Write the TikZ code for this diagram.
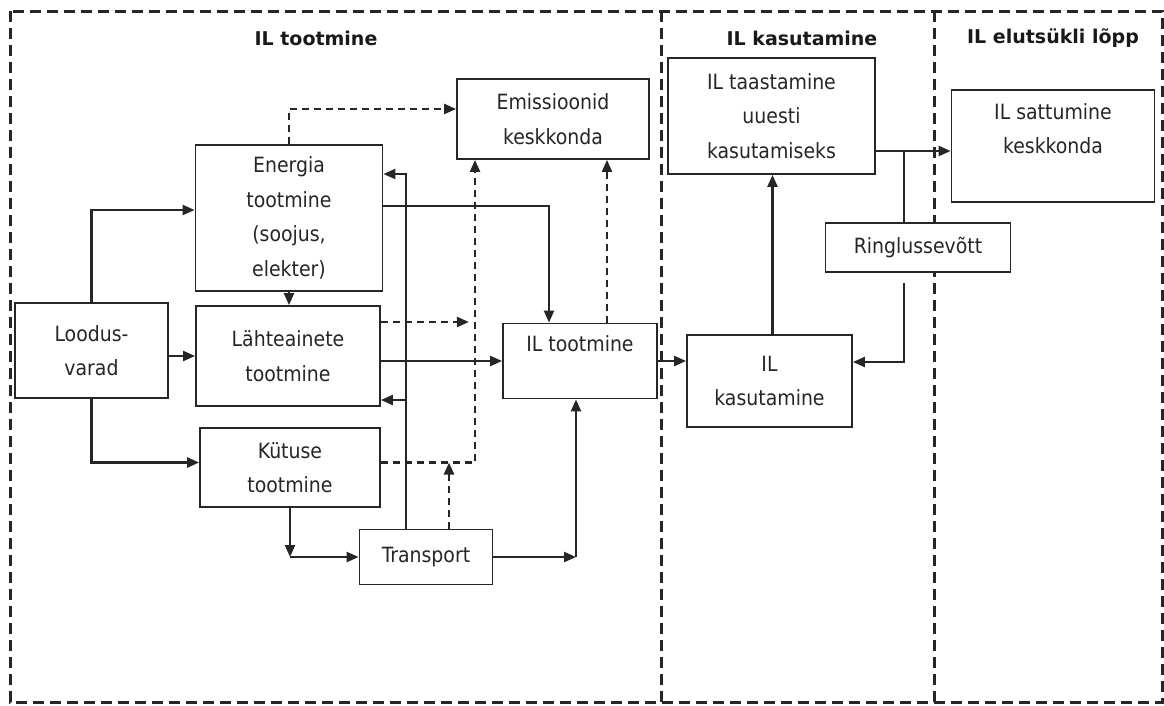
\documentclass[tikz,border=0pt]{standalone}
\usepackage{fontspec}
\setmainfont{DejaVu Sans Condensed}
\newfontfamily\titlefont{DejaVu Sans}
\usetikzlibrary{arrows.meta}

\tikzset{
  blok/.style={draw=black!85, fill=white, line width=1.8pt, inner sep=0pt, align=center, text=black!85,
    font=\fontsize{21}{34.5}\selectfont},
  pealk/.style={font=\titlefont\bfseries\fontsize{19}{23}\selectfont, text=black!90},
  joon/.style={line width=2.3pt, draw=black!85},
  nool/.style={joon, -{Triangle[length=12pt,width=10pt]}},
  katk/.style={nool, dash pattern=on 7pt off 5pt},
  raam/.style={line width=3pt, draw=black!85, dash pattern=on 11pt off 6pt}
}

\begin{document}
\begin{tikzpicture}[x=1pt, y=-1pt]
  \useasboundingbox (0,0) rectangle (1164,705);

  % frame and the three areas
  \draw[raam] (10,11) rectangle (1162,702);
  \draw[raam] (661,11) -- (661,702);
  \draw[raam] (934,11) -- (934,702);

  \node[pealk] (pt1) at (316,38) {IL tootmine};
  \node[pealk] (pt2) at (802,38) {IL kasutamine};
  \node[pealk] (pt3) at (1053,38) {IL elutsükli lõpp};

  % boxes
  \node[blok, minimum width=153, minimum height=95] (loodus) at (91.5,350.5) {Loodus-\\varad};
  \node[blok, minimum width=187, minimum height=146] (energia) at (289,218) {Energia\\tootmine\\(soojus,\\elekter)};
  \node[blok, minimum width=184, minimum height=100] (lahte) at (288,356) {Lähteainete\\tootmine};
  \node[blok, minimum width=180, minimum height=79] (kytus) at (290,467.5) {Kütuse\\tootmine};
  \node[blok, minimum width=133, minimum height=55] (transp) at (426,557) {Transport};
  \node[blok, minimum width=192, minimum height=80] (emis) at (553,119) {Emissioonid\\keskkonda};
  \node[blok, minimum width=154, minimum height=75] (iltoot) at (580,361) {IL tootmine\\ \mbox{}};
  \node[blok, minimum width=165, minimum height=92] (ilkas) at (769.5,381) {IL\\kasutamine};
  \node[blok, minimum width=207, minimum height=116] (taast) at (771.5,116) {IL taastamine\\uuesti\\kasutamiseks};
  \node[blok, minimum width=203, minimum height=112] (sattum) at (1053,146) {IL sattumine\\keskkonda\\ \mbox{}};
  \node[blok, minimum width=185, minimum height=49] (ring) at (918,247.5) {Ringlussevõtt};

  % from Loodusvarad
  \draw[nool] (loodus.north) |- ([yshift=8pt]energia.west);
  \draw[nool] (loodus.east |- lahte.west) -- (lahte.west);
  \draw[nool] (loodus.south) |- ([yshift=5pt]kytus.west);
  \draw[nool] (energia.south) -- (energia.south |- lahte.north);

  % into IL tootmine
  \draw[nool] ([yshift=12pt]energia.east) -| ([xshift=-31pt]iltoot.north);
  \draw[nool] (lahte.east |- iltoot.west) -- (iltoot.west);

  % transport
  \coordinate (tv) at ([xshift=-20pt]transp.north);
  \draw[nool] (tv) |- ([yshift=44pt]energia.east);
  \draw[nool] (tv) |- ([yshift=-44pt]lahte.east);
  \coordinate (kt) at (kytus.south |- transp.west);
  \draw[nool] (kytus.south) -- (kt);
  \draw[nool] (kt) -- (transp.west);
  \coordinate (ti) at ([xshift=-4pt]iltoot.south);
  \draw[nool] (transp.east) -- (transp.east -| ti);
  \draw[nool] (transp.east -| ti) -- (ti);

  % emissions (dashed)
  \coordinate (e1) at ([xshift=-78pt]emis.south);
  \coordinate (k1) at ([yshift=5pt]kytus.east);
  \coordinate (t2) at ([xshift=23pt]transp.north);
  \coordinate (i2) at ([xshift=27pt]iltoot.north);
  \draw[katk] (energia.north) |- ([yshift=10pt]emis.west);
  \draw[katk] (k1) -| (e1);
  \draw[katk] ([yshift=34pt]lahte.east) -- ++(88,0);
  \draw[katk] (t2) -- (t2 |- k1);
  \draw[katk] (i2) -- (i2 |- emis.south);

  % use and end of life
  \coordinate (k2) at ([xshift=3pt]ilkas.north);
  \coordinate (t1) at ([yshift=-35pt]taast.east);
  \coordinate (r1) at ([xshift=-14pt]ring.north);
  \coordinate (r2) at ([xshift=-14pt, yshift=-10pt]ring.south);
  \draw[nool] (iltoot.east) -- (ilkas.west |- iltoot.east);
  \draw[nool] (k2) -- (k2 |- taast.south);
  \draw[nool] (t1) -- (t1 -| sattum.west);
  \draw[joon] (r1) -- (r1 |- t1);
  \draw[nool] (r2) |- ([yshift=19pt]ilkas.east);
\end{tikzpicture}
\end{document}
